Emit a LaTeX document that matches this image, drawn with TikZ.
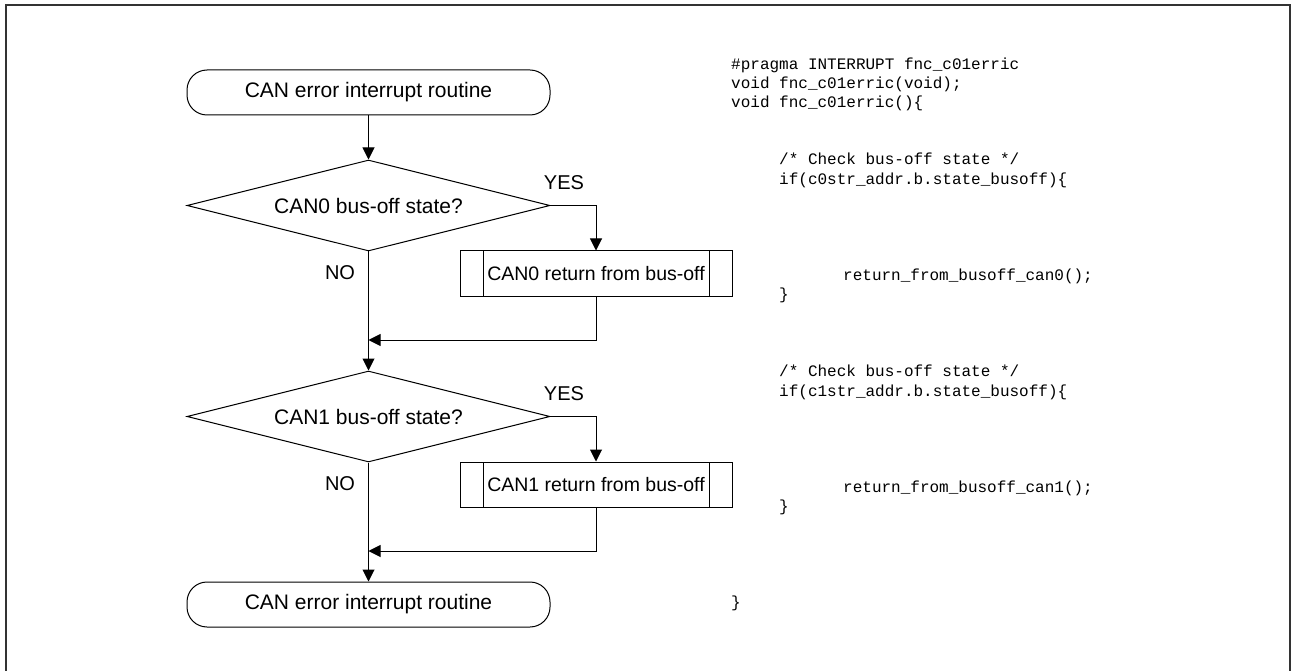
\documentclass[tikz,border=0pt]{standalone}
\usepackage{fontspec}
\setmainfont{Liberation Sans}
\newfontfamily\codefont{Liberation Mono}
\usetikzlibrary{shapes.geometric,arrows.meta}
\tikzset{
  lbl/.style={font=\fontsize{20}{23}\selectfont, inner sep=0pt},
  term/.style={draw, line width=1pt, rounded corners=20pt, minimum width=363pt, minimum height=45pt, inner sep=0pt, font=\fontsize{21}{24}\selectfont},
  decision/.style={draw, line width=1pt, diamond, aspect=3.989, inner sep=0pt, minimum width=363pt, minimum height=91pt, font=\fontsize{21}{24}\selectfont},
  proc/.style={draw, line width=1pt, rectangle, minimum width=272pt, minimum height=45pt, inner sep=0pt, font=\fontsize{19.5}{22}\selectfont,
    path picture={
      \draw[line width=1pt] ([xshift=23pt]path picture bounding box.north west) -- ([xshift=23pt]path picture bounding box.south west);
      \draw[line width=1pt] ([xshift=-23pt]path picture bounding box.north east) -- ([xshift=-23pt]path picture bounding box.south east);
    }},
  arr/.style={line width=1pt, -{Triangle[length=12pt,width=12pt]}},
  code/.style={font=\codefont\fontsize{16}{19}\selectfont, inner sep=0pt, anchor=base west},
}
\begin{document}
\begin{tikzpicture}[x=1pt,y=-1pt]
\useasboundingbox (0,0) rectangle (1291,671);
% outer frame
\draw[line width=1.6pt, black!80] (6,671) -- (6,5) -- (1290,5) -- (1290,671);

% flowchart
\node[term] (t1) at (368.5,92.5) {CAN error interrupt routine};
\node[decision] (d1) at (368.5,205.5) {CAN0 bus-off state?};
\node[proc] (b1) at (596,273.5) {CAN0 return from bus-off};
\coordinate (m1) at (368.5,340);
\node[decision] (d2) at (368.5,416.5) {CAN1 bus-off state?};
\node[proc] (b2) at (596,484.5) {CAN1 return from bus-off};
\coordinate (m2) at (368.5,551);
\node[term] (t2) at (368.5,604.5) {CAN error interrupt routine};

\node[lbl] (yes1) at (564,183) {YES};
\node[lbl] (no1) at (340,273) {NO};
\node[lbl] (yes2) at (564,394) {YES};
\node[lbl] (no2) at (340,484) {NO};

\draw[arr] (t1.south) -- (d1.north);
\draw[arr] (d1.east) -| (b1.north);
\draw[arr] (d1.south) -- (d2.north);
\draw[arr] (b1.south) |- (m1);
\draw[arr] (d2.east) -| (b2.north);
\draw[arr] (d2.south) -- (t2.north);
\draw[arr] (b2.south) |- (m2);

% code
\node[code] (c1) at (731,69.5) {\#pragma INTERRUPT fnc\_c01erric};
\node[code] (c2) at (731,88.5) {void fnc\_c01erric(void);};
\node[code] (c3) at (731,107.5) {void fnc\_c01erric()\{};
\node[code] (c4) at (779,165) {/* Check bus-off state */};
\node[code] (c5) at (779,184.5) {if(c0str\_addr.b.state\_busoff)\{};
\node[code] (c6) at (843,280.5) {return\_from\_busoff\_can0();};
\node[code] (c7) at (779,299.5) {\}};
\node[code] (c8) at (779,376.5) {/* Check bus-off state */};
\node[code] (c9) at (779,396) {if(c1str\_addr.b.state\_busoff)\{};
\node[code] (c10) at (843,492) {return\_from\_busoff\_can1();};
\node[code] (c11) at (779,511) {\}};
\node[code] (c12) at (731,607.5) {\}};
\end{tikzpicture}
\end{document}
